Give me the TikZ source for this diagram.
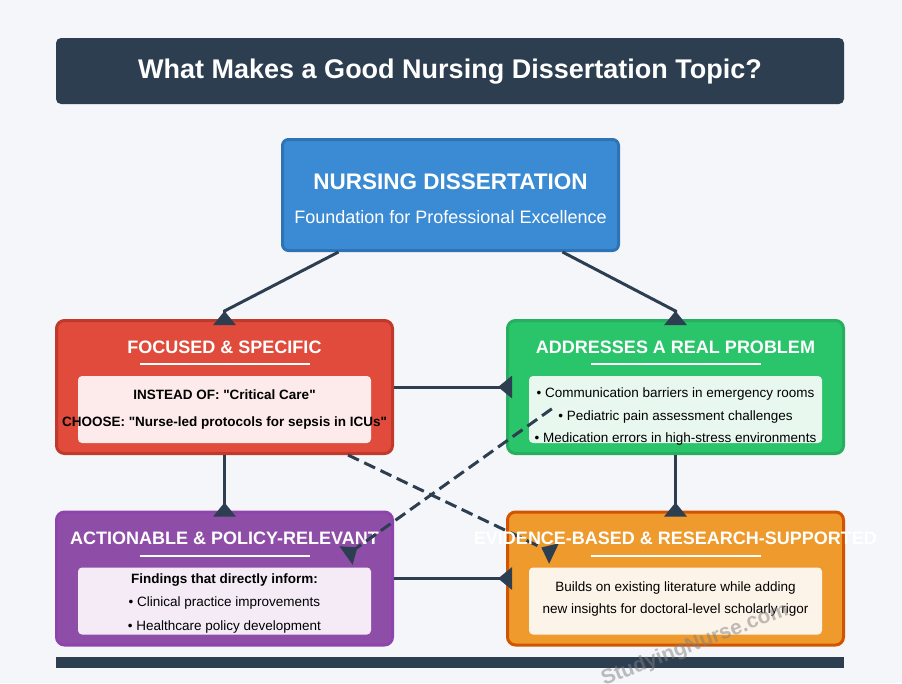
\documentclass[tikz,border=0pt]{standalone}
\usepackage{fontspec}
\setmainfont{Liberation Sans}
\usetikzlibrary{arrows.meta}
\definecolor{bgc}{HTML}{F4F6FA}
\definecolor{navy}{HTML}{2C3E50}
\definecolor{bluef}{HTML}{3A8BD4}
\definecolor{blued}{HTML}{2E74B5}
\definecolor{redf}{HTML}{E04B3C}
\definecolor{redd}{HTML}{C0392B}
\definecolor{redi}{HTML}{FCEBEA}
\definecolor{grnf}{HTML}{2AC46A}
\definecolor{grnd}{HTML}{27AE60}
\definecolor{grni}{HTML}{E9F8EF}
\definecolor{purf}{HTML}{8E4EA8}
\definecolor{purd}{HTML}{8E44AD}
\definecolor{puri}{HTML}{F4EBF7}
\definecolor{orgf}{HTML}{EE9A2C}
\definecolor{orgd}{HTML}{D35400}
\definecolor{orgi}{HTML}{FDF4E9}
\tikzset{
  box/.style={draw,line width=3pt,rounded corners=8pt,minimum width=336pt,minimum height=133pt,inner sep=0pt},
  inbox/.style={rounded corners=4pt,minimum width=293pt,minimum height=67pt,inner sep=0pt},
  hd/.style={text=white,font=\fontsize{18}{21}\selectfont\bfseries,inner sep=0pt},
  ul/.style={fill=white,minimum width=170pt,minimum height=2pt,inner sep=0pt},
  txt/.style={font=\fontsize{13.5}{16}\selectfont,inner sep=0pt},
  btxt/.style={font=\fontsize{13.5}{16}\selectfont\bfseries,inner sep=0pt},
  conn/.style={draw=navy,line width=3pt,-{Triangle[reversed,length=14pt,width=22pt]}},
  dconn/.style={conn,dash pattern=on 12pt off 6pt}
}

\begin{document}
\begin{tikzpicture}[x=1pt,y=-1pt]
\fill[bgc] (0,0) rectangle (902,683);
\useasboundingbox (0,0) rectangle (902,683);
\node[fill=navy,rounded corners=5pt,minimum width=788pt,minimum height=66pt] (top) at (450,71) {};
\node[text=white,font=\fontsize{27}{31}\selectfont\bfseries] (toptxt) at (450,72) {What Makes a Good Nursing Dissertation Topic?};

\node[box,fill=bluef,draw=blued,minimum height=111pt,rounded corners=6pt] (nd) at (450.5,195) {};
\node[text=white,font=\fontsize{22.5}{26}\selectfont\bfseries] (ndt) at (450.5,182) {NURSING DISSERTATION};
\node[text=white,font=\fontsize{18}{21}\selectfont] (nds) at (450.5,217) {Foundation for Professional Excellence};

\node[box,fill=redf,draw=redd] (fs) at (224.5,387) {};
\node[hd] (fst) at (224.5,347) {FOCUSED \& SPECIFIC};
\node[ul] (fsu) at (224.5,364) {};
\node[inbox,fill=redi] (fsi) at (224.5,409.5) {};
\node[btxt] (fs1) at (224.5,394.5) {INSTEAD OF: \textquotedbl Critical Care\textquotedbl};
\node[btxt] (fs2) at (224.5,423.5) {CHOOSE: \textquotedbl Nurse-led protocols for sepsis in ICUs\textquotedbl};

\node[box,fill=grnf,draw=grnd] (rp) at (675.5,387) {};
\node[hd] (rpt) at (675.5,347) {ADDRESSES A REAL PROBLEM};
\node[ul] (rpu) at (675.5,364) {};
\node[inbox,fill=grni] (rpi) at (675.5,409.5) {};
\node[txt] (rp1) at (675.5,394.5) {• Communication barriers in emergency rooms};
\node[txt] (rp2) at (675.5,417.5) {• Pediatric pain assessment challenges};
\node[txt] (rp3) at (675.5,439.5) {• Medication errors in high-stress environments};

\node[box,fill=purf,draw=purd] (ap) at (224.5,578.5) {};
\node[hd] (apt) at (224.5,538) {ACTIONABLE \& POLICY-RELEVANT};
\node[ul] (apu) at (224.5,556) {};
\node[inbox,fill=puri] (api) at (224.5,601) {};
\node[btxt] (ap1) at (224.5,580) {Findings that directly inform:};
\node[txt] (ap2) at (224.5,603.5) {• Clinical practice improvements};
\node[txt] (ap3) at (224.5,626.5) {• Healthcare policy development};

\node[box,fill=orgf,draw=orgd] (eb) at (675.5,578.5) {};
\node[ul] (ebu) at (675.5,556) {};
\node[inbox,fill=orgi] (ebi) at (675.5,601) {};
\node[txt] (eb1) at (675.5,587.5) {Builds on existing literature while adding};
\node[txt] (eb2) at (675.5,609.5) {new insights for doctoral-level scholarly rigor};

\node[fill=navy,minimum width=788pt,minimum height=11pt,inner sep=0pt] (foot) at (450,662.5) {};

\path[conn] ([xshift=-112pt]nd.south) -- ([yshift=8pt]fs.north) -- ([yshift=-6pt]fs.north);
\path[conn] ([xshift=112pt]nd.south) -- ([yshift=8pt]rp.north) -- ([yshift=-6pt]rp.north);
\path[conn] (fs.east) -- ([xshift=6pt]rp.west);
\path[conn] (fs.south) -- ([yshift=-6pt]ap.north);
\path[conn] (rp.south) -- ([yshift=-6pt]eb.north);
\path[conn] (ap.east) -- ([xshift=6pt]eb.west);
\path[dconn] ([xshift=-46pt]fs.south east) -- ([xshift=48pt,yshift=-43pt]eb.north west);
\path[dconn] ([xshift=23pt,yshift=-33pt]rpi.north west) -- ([xshift=-48pt,yshift=-45pt]ap.north east);

\node[hd] (ebt) at (675.5,538) {EVIDENCE-BASED \& RESEARCH-SUPPORTED};
\node[rotate=21,text=gray,opacity=0.5,font=\fontsize{21}{24}\selectfont\bfseries] (wm) at (695,645) {StudyingNurse.com};
\end{tikzpicture}
\end{document}
